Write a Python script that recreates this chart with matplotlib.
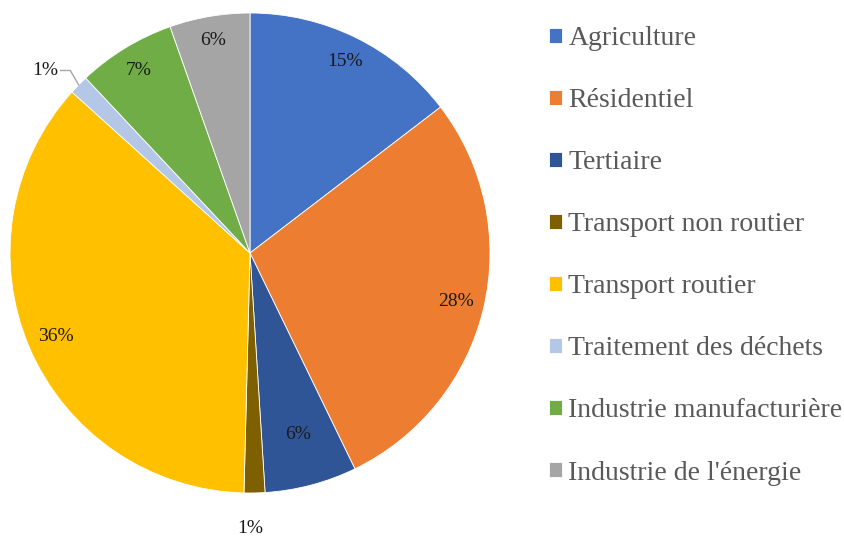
import matplotlib.pyplot as plt
import numpy as np

categories = ["Agriculture", "Résidentiel", "Tertiaire", "Transport non routier",
              "Transport routier", "Traitement des déchets",
              "Industrie manufacturière", "Industrie de l'énergie"]
shares = [14.6, 28.2, 6.2, 1.4, 36.3, 1.3, 6.6, 5.4]
pct_labels = ["15%", "28%", "6%", "1%", "36%", "1%", "7%", "6%"]
colors = ["#4472C4", "#ED7D31", "#2F5597", "#7F6000",
          "#FFC000", "#B4C7E7", "#70AD47", "#A5A5A5"]

plt.rcParams['font.family'] = ['Liberation Serif', 'DejaVu Serif']

fig = plt.figure(figsize=(8.45, 5.36), dpi=100)
# pie axes: centre (250, 253) px, radius 240 px
ax = fig.add_axes([10 / 845, (536 - 493) / 536, 480 / 845, 480 / 536])

wedges, _ = ax.pie(shares, colors=colors, startangle=90, counterclock=False,
                   radius=1.0, wedgeprops=dict(linewidth=0.6, edgecolor="white"))
ax.set_xlim(-1, 1)
ax.set_ylim(-1, 1)
ax.set_aspect("equal")
ax.axis("off")

# percentage labels
inside_r = [0.89, 0.88, 0.78, None, 0.88, None, 0.89, 0.9]
for w, lab, r in zip(wedges, pct_labels, inside_r):
    mid = np.deg2rad((w.theta1 + w.theta2) / 2)
    if r is not None:
        ax.text(r * np.cos(mid), r * np.sin(mid), lab, ha="center", va="center",
                fontsize=14, color="#1a1a1a")

# leader-lined labels for the small slices
w = wedges[3]
mid = np.deg2rad((w.theta1 + w.theta2) / 2)
x0, y0 = np.cos(mid), np.sin(mid)
ax.plot([x0, x0], [y0, y0 - 0.08], color="#a6a6a6", lw=1)
ax.text(x0 - 0.02, y0 - 0.15, pct_labels[3], ha="center", va="center",
        fontsize=14, color="#1a1a1a")

w = wedges[5]
mid = np.deg2rad((w.theta1 + w.theta2) / 2)
x0, y0 = 1.0 * np.cos(mid), 1.0 * np.sin(mid)
ax.plot([x0, x0 - 0.035, x0 - 0.075], [y0, y0 + 0.06, y0 + 0.06],
        color="#a6a6a6", lw=1)
ax.text(x0 - 0.085, y0 + 0.06, pct_labels[5], ha="right", va="center",
        fontsize=14, color="#1a1a1a")

leg = fig.legend(wedges, categories, loc="upper left",
                 bbox_to_anchor=(549 / 845, 1 - 26 / 536), frameon=False,
                 fontsize=20, labelspacing=1.335, handlelength=0.45,
                 handleheight=0.45, handletextpad=0.25, borderpad=0,
                 borderaxespad=0, labelcolor="#595959")

fig.savefig("out.png", dpi=100, facecolor="white")
